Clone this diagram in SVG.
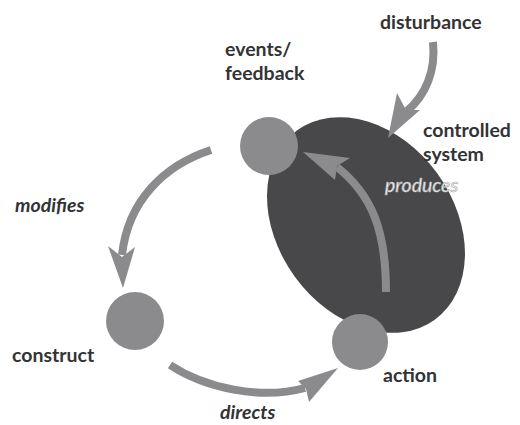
<svg xmlns="http://www.w3.org/2000/svg" width="520" height="425" viewBox="0 0 520 425">
<style>
.lbl{font-family:Lato,"Open Sans",sans-serif;font-weight:700;font-size:19.5px;fill:#333335}
.it{font-style:italic}
.node{fill:#8b8b8d}
.shaft{fill:none;stroke:#8b8b8d;stroke-width:8}
.head{fill:#8b8b8d}
</style>
<rect width="520" height="425" fill="#ffffff"/>
<g id="controlled-system">
<ellipse cx="366" cy="225" rx="117" ry="88" transform="rotate(54 366 225)" fill="#48484a"/>
<text class="lbl" x="423" y="137">controlled</text>
<text class="lbl" x="423" y="160.5">system</text>
</g>
<g id="events-feedback">
<circle class="node" cx="269" cy="146" r="29"/>
<text class="lbl" x="225" y="56">events/</text>
<text class="lbl" x="225" y="79.5">feedback</text>
</g>
<g id="construct">
<circle class="node" cx="135" cy="321" r="29"/>
<text class="lbl" x="12" y="362">construct</text>
</g>
<g id="action">
<circle class="node" cx="360" cy="342" r="28"/>
<text class="lbl" x="383" y="382">action</text>
</g>
<g id="disturbance">
<text class="lbl" x="380" y="29">disturbance</text>
</g>
<g id="connectors">
<path class="shaft" d="M211,150 C165,165 128,200 122,255"/>
<polygon class="head" points="123,288 135,247 122,257 108,246"/>
<text class="lbl it" x="15" y="212">modifies</text>
<path class="shaft" d="M170,365 C205,388 260,400 305,388"/>
<polygon class="head" points="338,368 298,381 306,389 309,402"/>
<text class="lbl it" x="220" y="419">directs</text>
<path class="shaft" d="M386,292 C386,230 372,195 337,167"/>
<polygon class="head" points="303,152 350,158 337,166 335,180"/>
<text class="lbl it" x="385" y="192" stroke="#a9a9ab" stroke-width="0.7" style="fill:#ffffff;font-weight:400">produces</text>
<path class="shaft" d="M433,42 C436,70 426,95 407,111"/>
<polygon class="head" points="388,138 397,93 406,110 420,110"/>
</g>
</svg>
